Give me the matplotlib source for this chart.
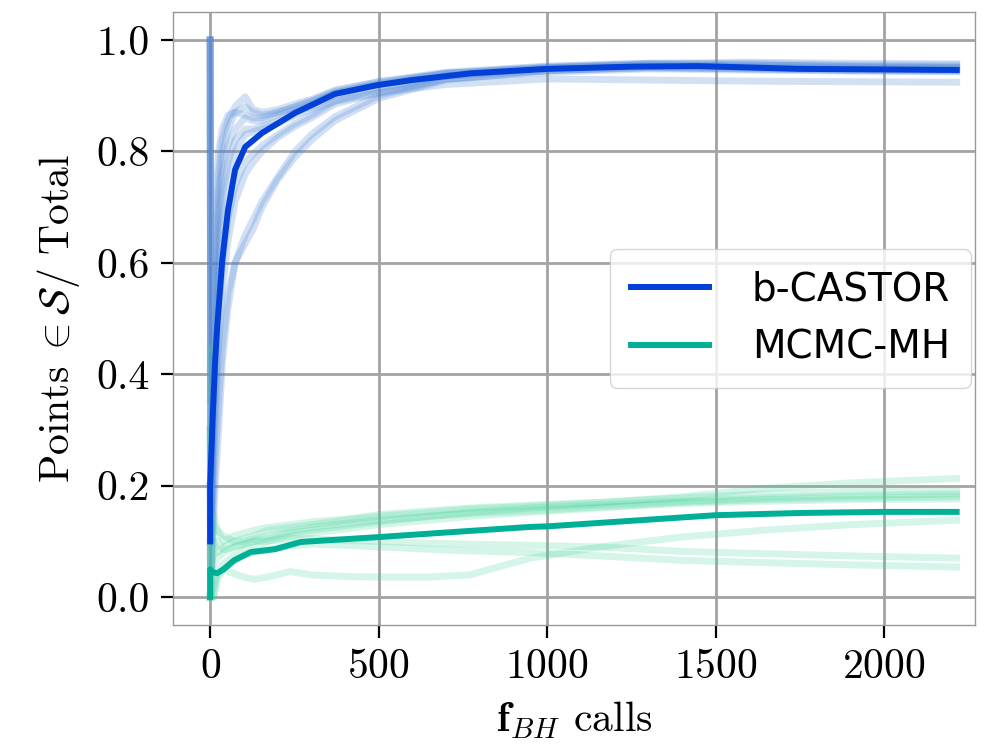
import numpy as np
import matplotlib.pyplot as plt

plt.rcParams['font.family'] = 'serif'
plt.rcParams['font.serif'] = ['cmr10']
plt.rcParams['mathtext.fontset'] = 'cm'
plt.rcParams['axes.formatter.use_mathtext'] = True

# b-CASTOR runs (shared x grid)
castor_x = [0, 2, 8, 15, 25, 36, 53, 74, 104, 127, 154, 201, 252, 300, 370, 500,
            700, 1000, 1300, 1600, 1900, 2215]
castor_runs = [
    [1.0, 0.3, 0.5, 0.65, 0.76, 0.82, 0.856, 0.88, 0.898, 0.875, 0.87, 0.875, 0.885, 0.893, 0.91, 0.925, 0.94, 0.95, 0.955, 0.955, 0.952, 0.95],
    [1.0, 0.25, 0.45, 0.6, 0.72, 0.79, 0.84, 0.87, 0.88, 0.87, 0.865, 0.87, 0.88, 0.89, 0.905, 0.922, 0.94, 0.952, 0.958, 0.96, 0.958, 0.957],
    [1.0, 0.2, 0.4, 0.55, 0.68, 0.76, 0.81, 0.84, 0.86, 0.855, 0.855, 0.865, 0.875, 0.885, 0.905, 0.92, 0.94, 0.95, 0.955, 0.952, 0.95, 0.95],
    [1.0, 0.15, 0.35, 0.5, 0.62, 0.72, 0.78, 0.82, 0.84, 0.84, 0.845, 0.855, 0.87, 0.88, 0.9, 0.915, 0.935, 0.945, 0.95, 0.948, 0.945, 0.944],
    [0.2, 0.05, 0.15, 0.25, 0.35, 0.45, 0.545, 0.6, 0.65, 0.677, 0.71, 0.754, 0.8, 0.83, 0.862, 0.9, 0.93, 0.945, 0.95, 0.948, 0.946, 0.945],
    [0.1, 0.0, 0.1, 0.2, 0.3, 0.42, 0.52, 0.6, 0.635, 0.66, 0.7, 0.75, 0.79, 0.82, 0.855, 0.895, 0.928, 0.945, 0.952, 0.95, 0.948, 0.947],
    [0.3, 0.1, 0.3, 0.45, 0.58, 0.68, 0.75, 0.8, 0.83, 0.835, 0.84, 0.85, 0.865, 0.875, 0.89, 0.905, 0.92, 0.93, 0.928, 0.926, 0.925, 0.924],
    [0.2, 0.1, 0.25, 0.38, 0.5, 0.6, 0.68, 0.74, 0.78, 0.795, 0.81, 0.83, 0.85, 0.865, 0.89, 0.912, 0.935, 0.95, 0.957, 0.958, 0.955, 0.955],
    [1.0, 0.35, 0.55, 0.7, 0.8, 0.84, 0.865, 0.87, 0.865, 0.86, 0.86, 0.87, 0.88, 0.89, 0.908, 0.925, 0.942, 0.953, 0.958, 0.955, 0.953, 0.952],
    [0.15, 0.05, 0.2, 0.32, 0.45, 0.55, 0.64, 0.71, 0.76, 0.78, 0.8, 0.825, 0.845, 0.86, 0.885, 0.905, 0.93, 0.942, 0.948, 0.946, 0.944, 0.943],
]
castor_mean_x = [0, 0, 3, 8, 15, 21, 36, 53, 74, 104, 154, 252, 370, 497, 600, 772,
                 1000, 1250, 1450, 1750, 2000, 2215]
castor_mean = [0.10, 0.20, 0.25, 0.33, 0.425, 0.485, 0.605, 0.695, 0.767, 0.808, 0.833,
               0.869, 0.903, 0.919, 0.928, 0.940, 0.948, 0.952, 0.953, 0.948, 0.947, 0.946]

# MCMC-MH runs (shared x grid)
mcmc_x = [0, 2, 10, 21, 40, 71, 100, 130, 170, 237, 300, 400, 500, 650, 770, 950,
          1157, 1400, 1640, 1900, 2215]
mcmc_runs = [
    [0.45, 0.1, 0.15, 0.12, 0.1, 0.11, 0.115, 0.12, 0.125, 0.13, 0.135, 0.14, 0.148, 0.155, 0.16, 0.165, 0.17, 0.18, 0.195, 0.205, 0.213],
    [0.0, 0.12, 0.1, 0.08, 0.09, 0.1, 0.105, 0.11, 0.12, 0.125, 0.13, 0.138, 0.145, 0.152, 0.158, 0.163, 0.17, 0.178, 0.185, 0.19, 0.19],
    [0.2, 0.05, 0.08, 0.1, 0.085, 0.09, 0.095, 0.1, 0.105, 0.115, 0.12, 0.128, 0.135, 0.145, 0.152, 0.16, 0.166, 0.172, 0.178, 0.182, 0.185],
    [0.0, 0.0, 0.0, 0.05, 0.06, 0.075, 0.085, 0.09, 0.1, 0.11, 0.115, 0.122, 0.13, 0.138, 0.145, 0.152, 0.16, 0.17, 0.175, 0.178, 0.18],
    [0.3, 0.1, 0.13, 0.12, 0.11, 0.1, 0.1, 0.105, 0.11, 0.118, 0.125, 0.132, 0.138, 0.145, 0.15, 0.155, 0.162, 0.168, 0.172, 0.175, 0.176],
    [0.0, 0.0, 0.02, 0.04, 0.05, 0.042, 0.036, 0.032, 0.036, 0.046, 0.04, 0.037, 0.036, 0.036, 0.04, 0.07, 0.09, 0.108, 0.12, 0.13, 0.138],
    [0.1, 0.05, 0.06, 0.07, 0.08, 0.09, 0.095, 0.1, 0.1, 0.105, 0.105, 0.102, 0.1, 0.097, 0.095, 0.093, 0.09, 0.082, 0.078, 0.074, 0.07],
    [0.0, 0.0, 0.0, 0.03, 0.05, 0.065, 0.075, 0.08, 0.085, 0.092, 0.095, 0.093, 0.09, 0.086, 0.083, 0.08, 0.074, 0.066, 0.062, 0.058, 0.054],
]
mcmc_mean_x = [0, 0, 5, 21, 40, 71, 121, 192, 269, 400, 506, 700, 950, 1000, 1200,
               1500, 1750, 2000, 2215]
mcmc_mean = [0.0, 0.05, 0.045, 0.043, 0.05, 0.066, 0.081, 0.086, 0.099, 0.104, 0.108,
             0.116, 0.126, 0.127, 0.135, 0.147, 0.151, 0.153, 0.153]

fig = plt.figure(figsize=(9.89, 7.53), dpi=100)
ax = fig.add_axes([0.175, 0.170, 0.811, 0.814])

for run in castor_runs:
    ax.plot(castor_x, run, color='#4f86d6', alpha=0.25, lw=5)
for run in mcmc_runs:
    ax.plot(mcmc_x, run, color='#3ed39a', alpha=0.22, lw=5)

ax.plot(castor_mean_x, castor_mean, color='#0340d8', lw=4.3, label='b-CASTOR')
ax.plot(mcmc_mean_x, mcmc_mean, color='#00b096', lw=4.3, label='MCMC-MH')

ax.set_xlim(-110, 2270)
ax.set_ylim(-0.05, 1.05)
ax.set_xticks([0, 500, 1000, 1500, 2000])
ax.set_yticks([0.0, 0.2, 0.4, 0.6, 0.8, 1.0])
ax.set_yticklabels(['0.0', '0.2', '0.4', '0.6', '0.8', '1.0'])
ax.grid(True, color='#a3a3a3', lw=2.0)
ax.set_axisbelow(True)
for s in ax.spines.values():
    s.set_color('#999999')
    s.set_linewidth(1.0)
ax.tick_params(labelsize=30, length=9, width=1.6, color='black', pad=8)

ax.set_xlabel(r'$\mathbf{f}_{BH}$ calls', fontsize=30, labelpad=10)
ax.set_ylabel(r'Points$\;\in \mathcal{S}$/ Total', fontsize=30, labelpad=10)

ax.legend(loc='center right', bbox_to_anchor=(1.0, 0.5), borderaxespad=0.1,
          prop={'family': 'DejaVu Sans', 'size': 28}, framealpha=0.8,
          edgecolor='#cccccc', fancybox=True, borderpad=0.55, handlelength=2.0,
          handletextpad=1.1, labelspacing=0.5)

fig.savefig('out.png', dpi=100)
